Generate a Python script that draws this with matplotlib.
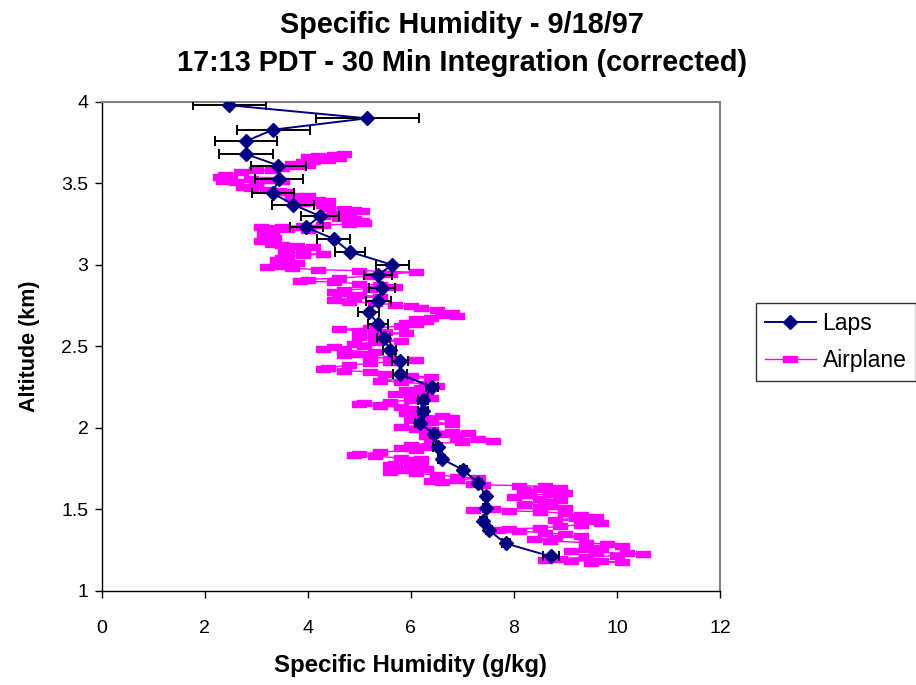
import matplotlib
matplotlib.use("Agg")
import matplotlib.pyplot as plt
from matplotlib.path import Path
from matplotlib.ticker import FuncFormatter

plt.rcParams['font.family'] = ['Liberation Sans', 'DejaVu Sans']

# LAPS retrieval: altitude (km), specific humidity (g/kg), +/- uncertainty
laps_alt = [3.98, 3.90, 3.83, 3.76, 3.68, 3.61, 3.53, 3.44, 3.37, 3.30,
            3.23, 3.16, 3.08, 3.00, 2.94, 2.86, 2.78, 2.71, 2.64, 2.55,
            2.48, 2.41, 2.33, 2.25, 2.17, 2.10, 2.03, 1.96, 1.88, 1.81,
            1.74, 1.66, 1.58, 1.51, 1.43, 1.37, 1.29, 1.21]
laps_q = [2.48, 5.15, 3.33, 2.80, 2.80, 3.43, 3.44, 3.32, 3.72, 4.23,
          3.97, 4.50, 4.82, 5.64, 5.37, 5.44, 5.37, 5.18, 5.36, 5.47,
          5.59, 5.79, 5.79, 6.41, 6.24, 6.23, 6.17, 6.45, 6.52, 6.60,
          7.02, 7.31, 7.46, 7.46, 7.41, 7.52, 7.84, 8.72]
laps_err = [0.71, 1.00, 0.71, 0.60, 0.53, 0.53, 0.46, 0.41, 0.41, 0.37,
            0.32, 0.32, 0.30, 0.32, 0.27, 0.25, 0.24, 0.21, 0.19, 0.12,
            0.13, 0.15, 0.13, 0.11, 0.10, 0.10, 0.09, 0.08, 0.08, 0.07,
            0.07, 0.07, 0.06, 0.06, 0.06, 0.06, 0.08, 0.15]

# Aircraft sounding: specific humidity (g/kg) and altitude (km), descending
air_q = [
    4.7, 4.5, 4.2, 4.0, 4.3, 4.6, 4.4, 4.1, 3.9, 3.7, 4.0, 3.8, 3.5,
    3.3, 3.0, 2.7, 2.4, 2.3, 2.5, 2.35, 2.6, 2.9, 3.2, 3.5,
    3.0, 2.75, 2.9, 3.2, 3.45, 3.6,
    3.8, 4.0, 3.7, 4.2, 4.4, 4.1, 3.9, 4.3,
    4.4, 4.7, 4.9, 5.05, 4.8, 4.5, 4.3, 4.6, 4.9, 5.05, 5.1, 4.8,
    4.3, 3.9, 3.5, 3.1, 3.2, 3.6, 4.0,
    3.3, 3.15, 3.2, 3.35, 3.2, 3.1, 3.3,
    3.5, 3.8, 4.1, 3.9, 3.6, 3.55, 3.9, 4.3, 3.9, 3.6, 3.5,
    3.4, 3.6, 3.8, 3.55, 3.4, 3.2, 3.7, 4.2, 5.0, 6.1, 5.6,
    5.2, 4.6, 4.0, 3.85, 4.5, 5.0, 5.4, 5.7, 5.2, 4.7, 4.5,
    4.6, 5.0, 5.4, 4.9, 4.5, 4.8, 5.3,
    5.7, 6.0, 6.2, 6.5, 6.8, 6.6, 6.9, 6.4, 6.1, 6.3, 5.9, 6.1, 5.8,
    5.2, 4.6, 5.0, 5.5, 5.9, 5.3, 5.0, 5.4, 5.8, 5.3, 4.9, 5.1,
    4.5, 4.3, 4.7, 5.3, 5.0, 4.7, 5.2, 5.6,
    6.1, 5.6, 5.2, 4.8, 4.4, 4.3, 4.7, 5.2,
    5.5, 6.0, 6.4, 5.9, 5.4, 5.8, 6.3, 6.5, 6.2, 5.9, 6.3,
    6.1, 5.7, 6.0, 6.4, 6.0, 5.6, 5.1, 5.0,
    5.4, 5.8, 6.0, 6.2, 5.9,
    6.1, 6.6, 6.8, 6.4, 6.0, 6.4, 6.8,
    6.2, 5.8, 6.1, 6.4, 6.8, 7.1, 6.6,
    6.3, 6.9, 7.3, 7.6, 7.0, 6.4, 6.0, 6.3, 5.8, 6.1,
    5.4, 5.0, 4.9, 5.3, 5.8, 6.2, 5.9, 6.2,
    5.7, 5.6, 6.0, 6.3, 5.8, 5.6, 6.1, 6.5, 6.9, 7.3, 6.9, 6.4, 6.6,
    7.2, 7.4, 8.1, 8.6, 8.9, 8.5, 8.2, 8.8, 9.0,
    8.7, 8.3, 8.0, 8.5, 8.9, 8.6, 8.2, 8.7, 9.0, 8.5,
    7.6, 7.2, 7.9, 8.5, 9.0, 9.3, 9.6, 9.2, 8.8, 9.5, 9.7, 9.3, 8.9,
    8.5, 7.9, 7.7,
    8.1, 8.6, 9.0, 9.3, 8.8, 8.4, 8.7,
    9.4, 9.8, 10.1, 9.7, 9.4, 9.1, 9.6, 10.2, 10.5, 10.0, 9.4, 8.9,
    8.6, 9.1, 9.7, 10.1, 9.5,
]
air_alt = [
    3.680, 3.675, 3.670, 3.665, 3.660, 3.655, 3.645, 3.640, 3.630, 3.620,
    3.615, 3.605, 3.595,
    3.585, 3.580, 3.570, 3.550, 3.540, 3.530, 3.515, 3.510, 3.525, 3.520,
    3.515,
    3.490, 3.480, 3.470, 3.460, 3.455, 3.450,
    3.425, 3.420, 3.410, 3.400, 3.395, 3.385, 3.380, 3.370,
    3.350, 3.345, 3.340, 3.330, 3.320, 3.310, 3.300, 3.290, 3.280, 3.270,
    3.260, 3.250,
    3.245, 3.240, 3.235, 3.230, 3.225, 3.220, 3.215,
    3.200, 3.190, 3.175, 3.165, 3.155, 3.145, 3.130,
    3.120, 3.115, 3.110, 3.100, 3.090, 3.080, 3.070, 3.065, 3.060, 3.050,
    3.040,
    3.030, 3.020, 3.010, 3.000, 2.995, 2.990, 2.980, 2.970, 2.965, 2.955,
    2.945,
    2.930, 2.920, 2.910, 2.900, 2.895, 2.885, 2.875, 2.865, 2.855, 2.845,
    2.835,
    2.825, 2.815, 2.805, 2.795, 2.785, 2.775, 2.765,
    2.755, 2.745, 2.735, 2.720, 2.705, 2.695, 2.685, 2.675, 2.665, 2.655,
    2.645, 2.635, 2.625,
    2.610, 2.605, 2.595, 2.585, 2.580, 2.570, 2.555, 2.545, 2.535, 2.525,
    2.515, 2.505,
    2.495, 2.485, 2.475, 2.465, 2.455, 2.445, 2.435, 2.425,
    2.415, 2.405, 2.395, 2.385, 2.370, 2.360, 2.350, 2.345,
    2.330, 2.320, 2.310, 2.300, 2.290, 2.280, 2.270, 2.255, 2.245, 2.235,
    2.225,
    2.215, 2.205, 2.195, 2.185, 2.170, 2.160, 2.150, 2.145,
    2.135, 2.125, 2.115, 2.100, 2.090,
    2.080, 2.070, 2.060, 2.055, 2.045, 2.035, 2.025,
    2.015, 2.005, 1.995, 1.985, 1.975, 1.970, 1.960,
    1.950, 1.940, 1.930, 1.920, 1.910, 1.905, 1.895, 1.885, 1.875, 1.865,
    1.850, 1.840, 1.830, 1.825, 1.815, 1.810, 1.800, 1.790,
    1.780, 1.770, 1.760, 1.750, 1.740, 1.730, 1.720, 1.710, 1.700, 1.690,
    1.680, 1.675, 1.665,
    1.655, 1.650, 1.645, 1.640, 1.630, 1.625, 1.620, 1.610, 1.600,
    1.595, 1.585, 1.575, 1.565, 1.555, 1.545, 1.535, 1.520, 1.510, 1.505,
    1.500, 1.495, 1.490, 1.485, 1.475, 1.465, 1.455, 1.445, 1.435, 1.425,
    1.415, 1.405, 1.395, 1.385, 1.378, 1.372,
    1.365, 1.355, 1.345, 1.335, 1.325, 1.315, 1.305,
    1.295, 1.285, 1.275, 1.265, 1.255, 1.245, 1.235, 1.230, 1.225, 1.215,
    1.205, 1.195, 1.190, 1.185, 1.180, 1.175, 1.170,
]

x_ticks = [0, 2, 4, 6, 8, 10, 12]
y_ticks = [1, 1.5, 2, 2.5, 3, 3.5, 4]

NAVY = '#000080'
MAGENTA = '#FF00FF'

# Flat dash marker for the aircraft series
dash_marker = Path([(-1.0, -0.42), (1.0, -0.42), (1.0, 0.42), (-1.0, 0.42), (-1.0, -0.42)],
                   [Path.MOVETO, Path.LINETO, Path.LINETO, Path.LINETO, Path.CLOSEPOLY])

fig = plt.figure(figsize=(9.16, 6.85), dpi=100)
ax = fig.add_axes([0.111, 0.1377, 0.675, 0.7134])

ax.plot(air_q, air_alt, color=MAGENTA, lw=1.0, marker=dash_marker,
        markersize=9.5, markerfacecolor=MAGENTA, markeredgecolor=MAGENTA,
        label='Airplane', zorder=2)

ax.errorbar(laps_q, laps_alt, xerr=laps_err, fmt='none', ecolor='black',
            elinewidth=1.4, capsize=3.8, capthick=1.4, zorder=3)
ax.plot(laps_q, laps_alt, color=NAVY, lw=1.4, marker='D', markersize=7,
        markerfacecolor=NAVY, markeredgecolor=NAVY, label='Laps', zorder=4)

ax.set_xlim(0, 12)
ax.set_ylim(1, 4)
ax.set_xticks(x_ticks)
ax.set_yticks(y_ticks)
ax.yaxis.set_major_formatter(FuncFormatter(lambda v, p: f'{v:g}'))
ax.tick_params(direction='out', length=5, width=1, labelsize=14,
               colors='black')
ax.tick_params(axis='x', pad=16)
ax.tick_params(axis='y', pad=4.5)

for side in ('left', 'bottom'):
    ax.spines[side].set_color('black')
    ax.spines[side].set_linewidth(1.0)
for side in ('top', 'right'):
    ax.spines[side].set_color('#808080')
    ax.spines[side].set_linewidth(1.5)

ax.set_xlabel('Specific Humidity (g/kg)', fontsize=17.3, fontweight='bold', va='center')
ax.xaxis.set_label_coords(0.5, -0.154)
ax.set_ylabel('Altitude (km)', fontsize=15.5, fontweight='bold', va='center')
ax.yaxis.set_label_coords(-0.117, 0.50)

fig.text(0.504, 1 - 25 / 685, 'Specific Humidity - 9/18/97',
         ha='center', va='center', fontsize=20.8, fontweight='bold')
fig.text(0.504, 1 - 63 / 685, '17:13 PDT - 30 Min Integration (corrected)',
         ha='center', va='center', fontsize=20.8, fontweight='bold')

handles, labels = ax.get_legend_handles_labels()
order = [labels.index('Laps'), labels.index('Airplane')]
leg = fig.legend([handles[i] for i in order], [labels[i] for i in order],
                 loc='upper left', bbox_to_anchor=(756 / 916, 1 - 303 / 685),
                 fontsize=16.5, frameon=True, fancybox=False, shadow=False,
                 handlelength=2.2, borderpad=0.4, labelspacing=0.6,
                 handletextpad=0.3, borderaxespad=0)
leg.get_frame().set_edgecolor('black')
leg.get_frame().set_linewidth(1.0)

fig.savefig('out.png', dpi=100)
